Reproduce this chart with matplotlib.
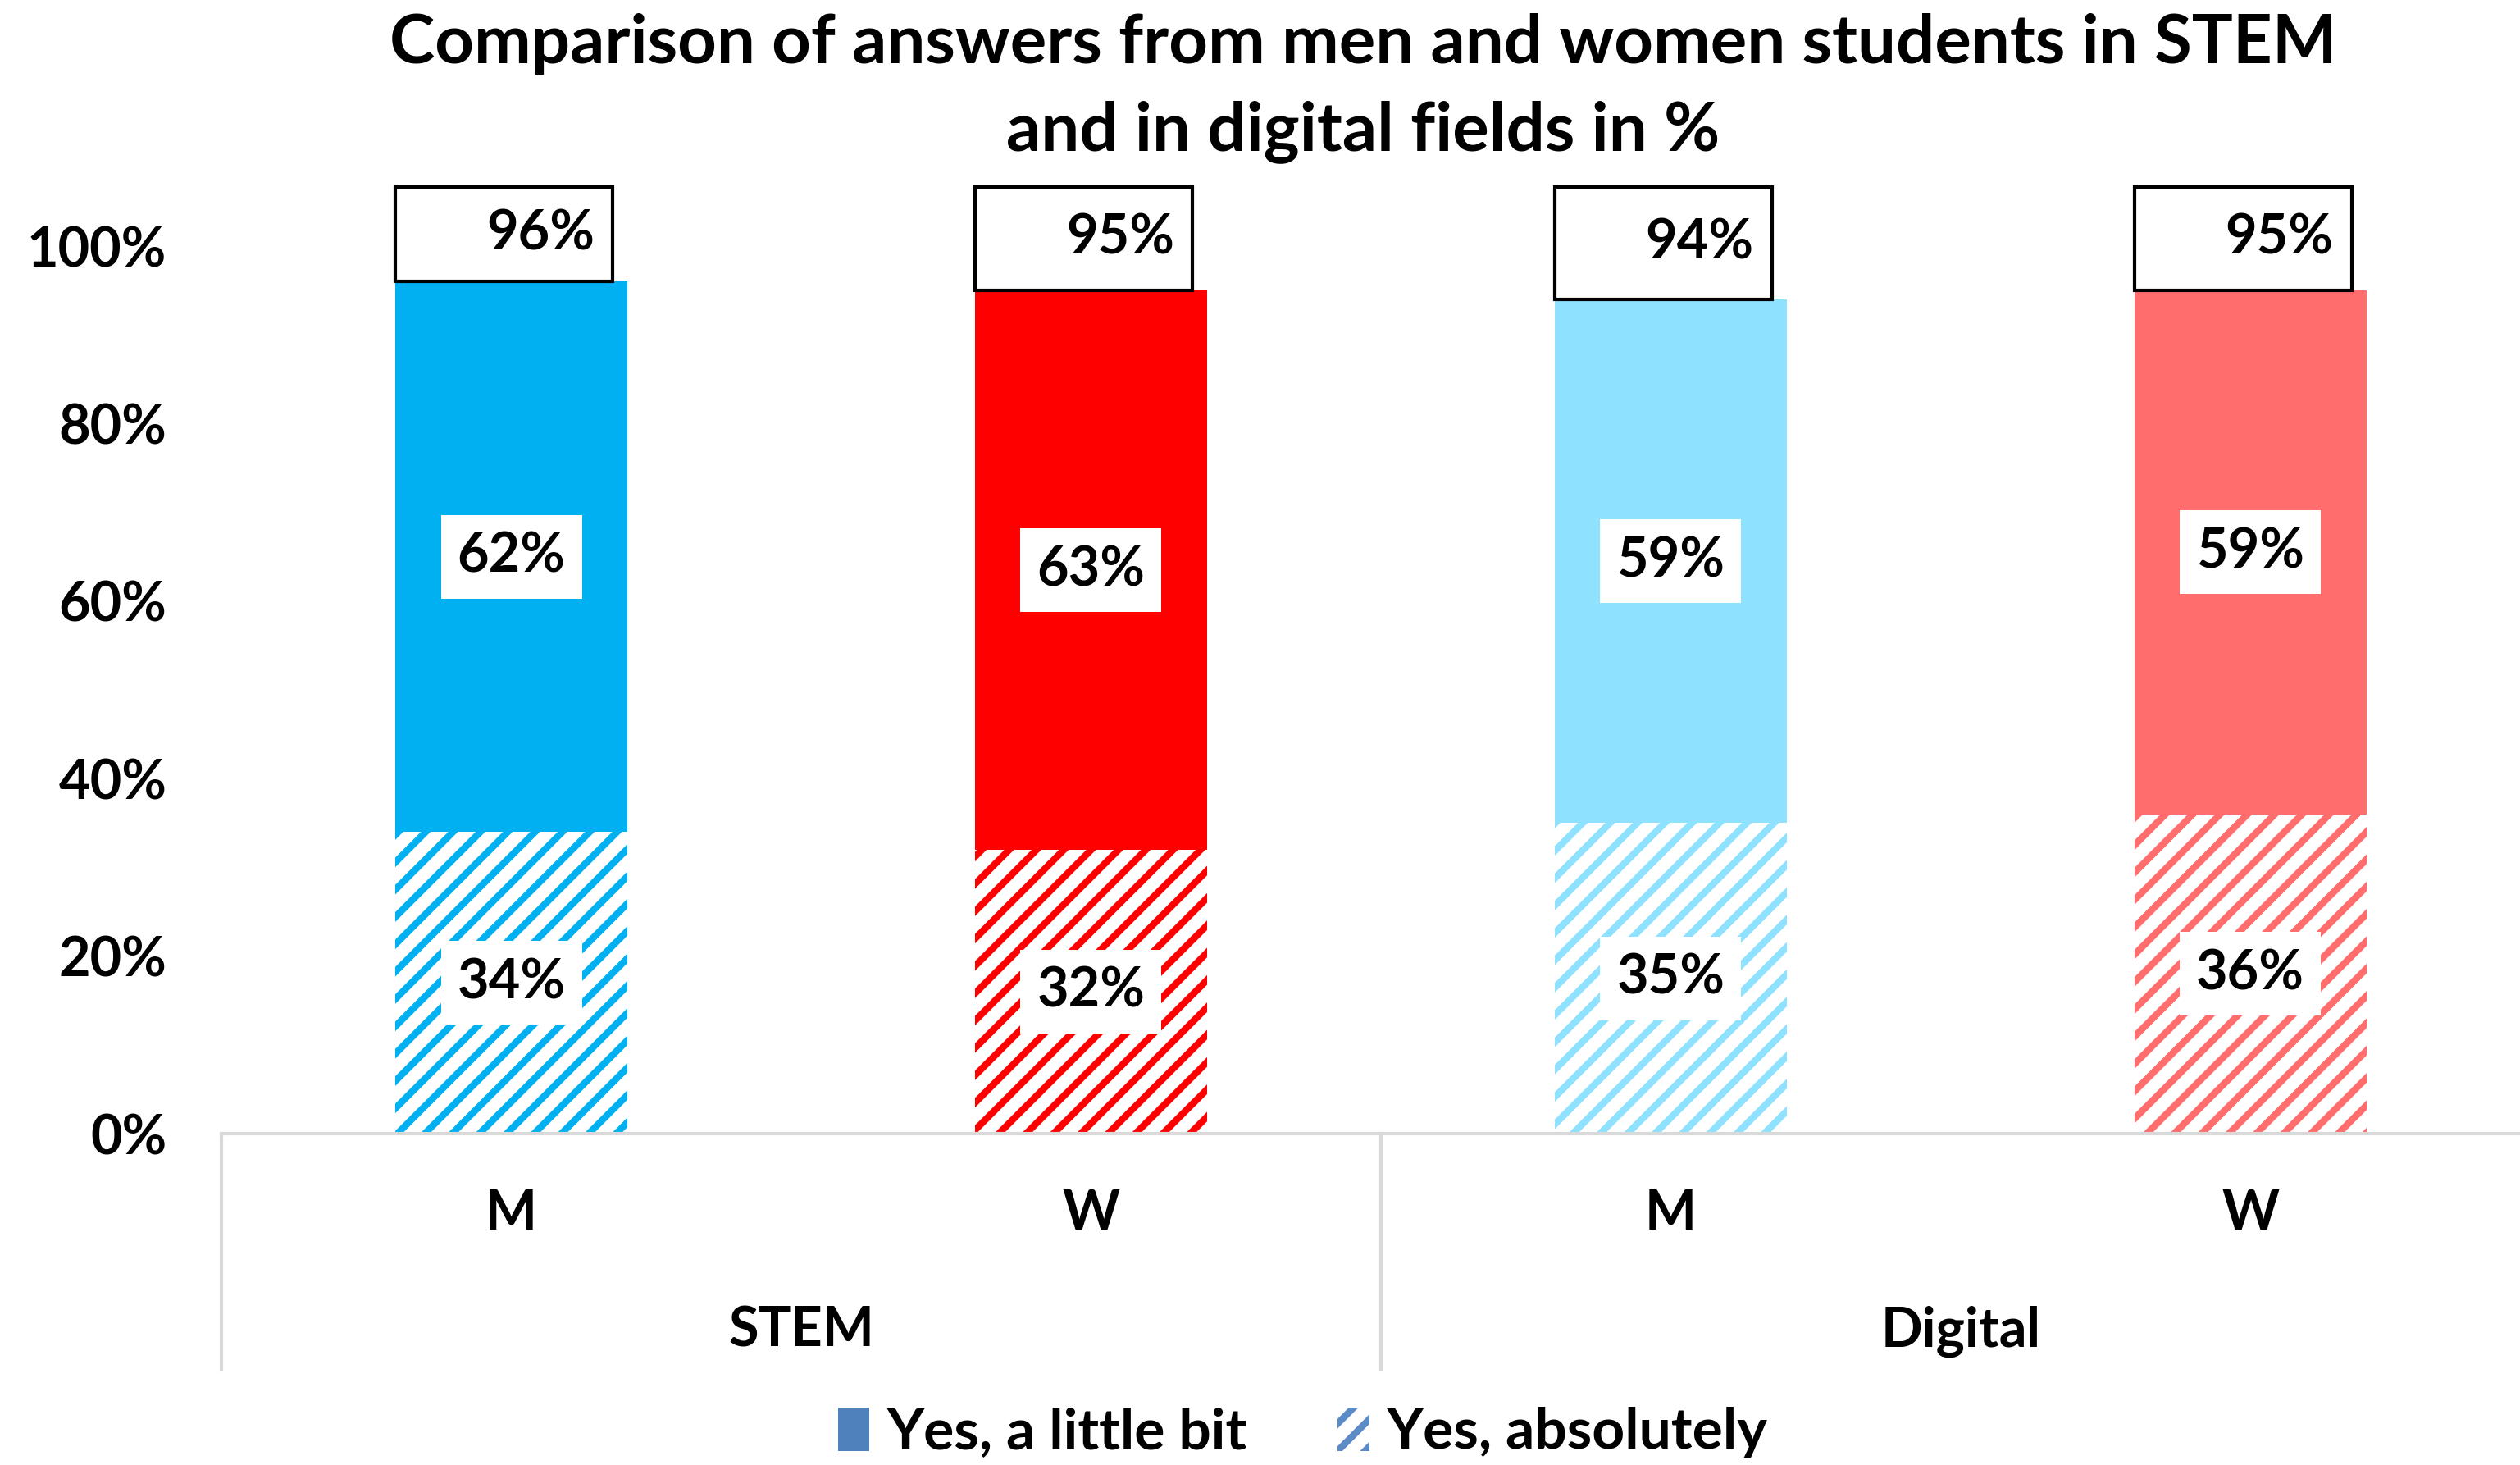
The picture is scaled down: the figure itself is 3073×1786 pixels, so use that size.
import matplotlib
matplotlib.use("Agg")
import matplotlib.pyplot as plt
from matplotlib.patches import Patch
import numpy as np

plt.rcParams["font.family"] = ["Lato", "DejaVu Sans"]
plt.rcParams["font.weight"] = "bold"
plt.rcParams["hatch.linewidth"] = 3.0

# data (% of students)
groups = ["STEM", "Digital"]
genders = ["M", "W", "M", "W"]
absolutely = [34, 32, 35, 36]        # hatched, bottom
little_bit = [62, 63, 59, 59]        # solid, top
totals = [96, 95, 94, 95]
colors = ["#00B0F0", "#FF0000", "#8EE1FF", "#FF6D6D"]

BAR_W = 0.40
BOX_W = 0.375
BOX_TOP = 106.7
FS = 24

fig = plt.figure(figsize=(15.365, 8.93), dpi=200)
ax = fig.add_axes([0.0879, 0.2262, 0.9121, 0.6663])
x = np.arange(len(genders))

ax.bar(x, absolutely, BAR_W, color="white", edgecolor=colors, hatch="//", linewidth=0)
ax.bar(x, little_bit, BAR_W, bottom=absolutely, color=colors, linewidth=0)

for i in range(len(x)):
    ax.text(x[i], absolutely[i] / 2, f"{absolutely[i]}%", ha="center", va="center",
            fontsize=FS, fontweight="bold",
            bbox=dict(boxstyle="square,pad=0.3", fc="white", ec="none"))
    ax.text(x[i], absolutely[i] + little_bit[i] / 2, f"{little_bit[i]}%", ha="center",
            va="center", fontsize=FS, fontweight="bold",
            bbox=dict(boxstyle="square,pad=0.3", fc="white", ec="none"))

# total boxes on top
tot = np.array(totals, dtype=float)
ax.bar(x - BAR_W / 2, BOX_TOP - tot, BOX_W, bottom=tot, align="edge",
       color="white", edgecolor="black", linewidth=1.5, zorder=3)
for i in range(len(x)):
    ax.text(x[i] + 0.05, (tot[i] + BOX_TOP) / 2, f"{totals[i]}%", ha="center",
            va="center", fontsize=FS, fontweight="bold", zorder=4)

ax.set_xlim(-0.5, 3.465)
ax.set_ylim(0, 110)
ax.set_yticks(range(0, 101, 20))
ax.set_yticklabels([f"{v}%" for v in range(0, 101, 20)], fontsize=FS, fontweight="bold")
ax.tick_params(axis="y", length=0, pad=24)
ax.set_xticks([])
for s in ["top", "right", "left"]:
    ax.spines[s].set_visible(False)
ax.spines["bottom"].set_color("#D9D9D9")
ax.spines["bottom"].set_linewidth(1.5)

# two-level category axis
trans = ax.get_xaxis_transform()
for i, g in enumerate(genders):
    ax.text(x[i], -0.082, g, transform=trans, ha="center", va="center",
            fontsize=FS, fontweight="bold")
for j, grp in enumerate(groups):
    ax.text(2 * j + 0.5, -0.2025, grp, transform=trans, ha="center", va="center",
            fontsize=FS, fontweight="bold")
for xs in [-0.5, 1.5, 3.5]:
    ax.plot([xs, xs], [0, -0.242], transform=trans, color="#D9D9D9", lw=1.5,
            clip_on=False)

fig.text(0.541, 0.970, "Comparison of answers from men and women students in STEM",
         ha="center", va="center", fontsize=30, fontweight="bold")
fig.text(0.541, 0.910, "and in digital fields in %",
         ha="center", va="center", fontsize=30, fontweight="bold")

handles = [Patch(facecolor="#4F81BD", linewidth=0),
           Patch(facecolor="white", edgecolor="#5B8BC5", hatch="//", linewidth=0)]
fig.legend(handles, ["Yes, a little bit", "Yes, absolutely"], loc="center",
           bbox_to_anchor=(0.517, 0.022), ncol=2, frameon=False, fontsize=25,
           handlelength=0.55, handleheight=0.8, handletextpad=0.3, columnspacing=1.6,
           borderpad=0.1)

fig.savefig("out.png", dpi=200)
